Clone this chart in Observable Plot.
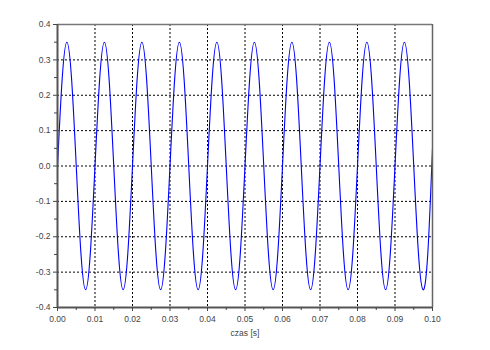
<!DOCTYPE html>
<html>
<head>
<meta charset="utf-8">
<script src="https://cdn.jsdelivr.net/npm/d3@7"></script>
<script src="https://cdn.jsdelivr.net/npm/@observablehq/plot@0.6"></script>
<style>
  html, body { margin: 0; padding: 0; background: #fff; }
</style>
</head>
<body>
<div id="chart"></div>
<script>
// Sample points (time in s, signal value)
const times = [
  0, 0.00125, 0.0025, 0.00375, 0.005, 0.00625, 0.0075, 0.00875,
  0.01, 0.01125, 0.0125, 0.01375, 0.015, 0.01625, 0.0175, 0.01875,
  0.02, 0.02125, 0.0225, 0.02375, 0.025, 0.02625, 0.0275, 0.02875,
  0.03, 0.03125, 0.0325, 0.03375, 0.035, 0.03625, 0.0375, 0.03875,
  0.04, 0.04125, 0.0425, 0.04375, 0.045, 0.04625, 0.0475, 0.04875,
  0.05, 0.05125, 0.0525, 0.05375, 0.055, 0.05625, 0.0575, 0.05875,
  0.06, 0.06125, 0.0625, 0.06375, 0.065, 0.06625, 0.0675, 0.06875,
  0.07, 0.07125, 0.0725, 0.07375, 0.075, 0.07625, 0.0775, 0.07875,
  0.08, 0.08125, 0.0825, 0.08375, 0.085, 0.08625, 0.0875, 0.08875,
  0.09, 0.09125, 0.0925, 0.09375, 0.095, 0.09625, 0.0975, 0.09875,
  0.1
];
const values = [
  0, 0.247, 0.35, 0.247, 0, -0.247, -0.35, -0.247,
  0, 0.247, 0.35, 0.247, 0, -0.247, -0.35, -0.247,
  0, 0.247, 0.35, 0.247, 0, -0.247, -0.35, -0.247,
  0, 0.247, 0.35, 0.247, 0, -0.247, -0.35, -0.247,
  0, 0.247, 0.35, 0.247, 0, -0.247, -0.35, -0.247,
  0, 0.247, 0.35, 0.247, 0, -0.247, -0.35, -0.247,
  0, 0.247, 0.35, 0.247, 0, -0.247, -0.35, -0.247,
  0, 0.247, 0.35, 0.247, 0, -0.247, -0.35, -0.247,
  0, 0.247, 0.35, 0.247, 0, -0.247, -0.35, -0.247,
  0, 0.247, 0.35, 0.247, 0, -0.247, -0.35, -0.247,
  0.05
];
const xTicks = [0, 0.01, 0.02, 0.03, 0.04, 0.05, 0.06, 0.07, 0.08, 0.09, 0.1];
const xMinorTicks = [0.005, 0.015, 0.025, 0.035, 0.045, 0.055, 0.065, 0.075, 0.085, 0.095];
const yTicks = [-0.4, -0.3, -0.2, -0.1, 0, 0.1, 0.2, 0.3, 0.4];
const yMinorTicks = [-0.35, -0.25, -0.15, -0.05, 0.05, 0.15, 0.25, 0.35];
const xLabel = "czas [s]";

const data = times.map((t, i) => ({t, v: values[i]}));

const chart = Plot.plot({
  width: 490,
  height: 350,
  marginLeft: 57,
  marginRight: 58,
  marginTop: 24,
  marginBottom: 43,
  style: {fontFamily: "'Liberation Sans', Arial, sans-serif", background: "#fff"},
  x: {domain: [0, 0.1]},
  y: {domain: [-0.4, 0.4]},
  marks: [
    Plot.gridX(xTicks, {stroke: "black", strokeOpacity: 1, strokeDasharray: "2,2"}),
    Plot.gridY(yTicks, {stroke: "black", strokeOpacity: 1, strokeDasharray: "2,2"}),
    Plot.line(data, {x: "t", y: "v", stroke: "#0000ff", strokeWidth: 1.1, curve: "natural"}),
    Plot.ruleY([0.4], {stroke: "#777", strokeWidth: 1.5}),
    Plot.ruleX([0.1], {stroke: "#666", strokeWidth: 1.5}),
    Plot.ruleY([-0.4], {stroke: "#555", strokeWidth: 2}),
    Plot.ruleX([0], {stroke: "#555", strokeWidth: 2}),
    Plot.axisX(xTicks, {tickSize: 4, tickPadding: 4, tickFormat: d => d.toFixed(2), fontSize: 8.5, color: "#444", label: null}),
    Plot.axisX(xMinorTicks, {tickSize: 3, tickFormat: () => "", color: "#444", label: null}),
    Plot.axisY(yTicks, {tickSize: 4, tickPadding: 3, tickFormat: d => d.toFixed(1), fontSize: 8.5, color: "#444", label: null}),
    Plot.axisY(yMinorTicks, {tickSize: 3, tickFormat: () => "", color: "#444", label: null}),
    Plot.text([xLabel], {text: d => d, frameAnchor: "bottom", dy: 28, fontSize: 8.5, fill: "#444"})
  ]
});
document.getElementById("chart").appendChild(chart);
</script>
</body>
</html>
